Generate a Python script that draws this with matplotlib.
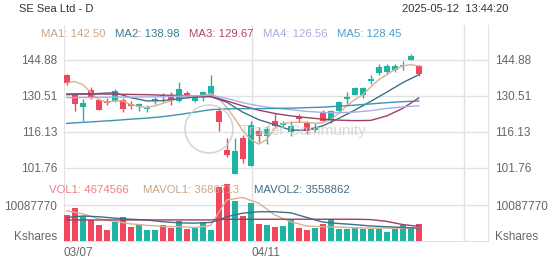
import matplotlib
matplotlib.use("Agg")
import matplotlib.pyplot as plt
from matplotlib.patches import Ellipse
import numpy as np

plt.rcParams['font.family'] = ['Liberation Sans', 'DejaVu Sans']

# ---- data (45 daily candles, last = 2025-05-12) ----
opens = [138.7, 130.9, 125.9, 132.9, 129.0, 128.3, 128.3, 128.9, 127.3, 125.9,
         125.3, 128.3, 130.7, 130.9, 128.3, 131.7, 128.6, 130.3, 130.6, 124.3,
         108.8, 99.4, 113.6, 102.5, 116.3, 114.6, 120.3, 119.0, 116.1, 121.9,
         119.7, 116.9, 123.5, 120.9, 124.6, 129.1, 131.0, 131.0, 136.4, 139.6,
         140.1, 141.0, 142.3, 144.9, 142.3]
closes = [135.6, 127.3, 127.5, 129.7, 124.9, 127.5, 132.4, 125.3, 126.6, 127.1,
          125.9, 129.3, 129.9, 129.0, 133.3, 130.5, 129.9, 131.9, 134.6, 119.9,
          106.9, 108.5, 105.2, 119.0, 114.6, 117.2, 118.5, 119.8, 118.4, 121.2,
          116.5, 118.2, 120.6, 124.3, 127.9, 130.2, 133.7, 133.7, 137.2, 142.0,
          142.3, 142.3, 142.8, 146.4, 139.3]
highs = [139.2, 131.5, 129.4, 134.0, 129.4, 129.5, 133.3, 129.5, 128.6, 127.7,
         126.9, 130.2, 131.7, 132.0, 136.0, 132.4, 131.0, 132.6, 138.7, 125.5,
         113.6, 113.6, 115.0, 120.6, 117.9, 118.5, 123.5, 120.6, 120.6, 123.2,
         120.5, 119.5, 124.9, 124.9, 128.6, 131.9, 134.2, 134.2, 139.0, 143.4,
         143.4, 143.4, 144.4, 147.4, 143.0]
lows = [135.0, 124.6, 120.6, 129.3, 124.7, 126.8, 127.9, 123.9, 125.2, 124.6,
        124.0, 127.3, 128.0, 127.0, 128.0, 129.6, 127.9, 128.3, 130.2, 116.6,
        106.0, 99.2, 103.5, 102.3, 111.9, 111.3, 118.0, 118.2, 114.4, 120.0,
        115.4, 115.9, 120.6, 119.8, 123.9, 127.3, 130.9, 129.6, 135.4, 138.9,
        139.4, 140.0, 140.8, 144.7, 138.5]
volumes = [7300000, 9200000, 7000000, 5900000, 4500000, 3100000, 5300000, 6800000,
           3900000, 4500000, 3100000, 3100000, 4500000, 3600000, 5700000, 3300000,
           3600000, 5200000, 3100000, 15200000, 15900000, 11300000, 7000000,
           10700000, 4900000, 4500000, 4000000, 4200000, 6100000, 3700000, 3000000,
           3600000, 4700000, 6100000, 3400000, 3300000, 3700000, 3300000, 3400000,
           3400000, 2600000, 3300000, 4500000, 3900000, 4674566]

ma1 = [135.6, 136.3, 135.0, 132.0, 129.0, 128.0, 128.5, 128.5, 127.0, 126.3,
       125.8, 126.5, 127.5, 128.5, 129.5, 130.0, 130.3, 130.5, 131.5, 129.5,
       125.9, 121.5, 116.6, 113.0, 111.2, 113.0, 117.5, 119.5, 119.8, 120.0,
       119.9, 119.6, 119.8, 121.0, 123.5, 126.5, 129.0, 131.0, 134.0, 137.0,
       139.0, 141.0, 142.5, 143.0, 142.5]
ma_idx = [0, 3, 6, 8, 10, 12, 14, 16, 18, 20, 22, 24, 26, 28, 30, 32, 34, 36, 38, 40, 42, 44]
ma2 = [131.0, 131.3, 131.8, 129.8, 128.5, 128.6, 129.4, 130.0, 130.2, 128.0, 124.0,
       121.0, 119.0, 116.8, 116.8, 118.5, 121.5, 124.8, 128.3, 132.0, 135.8, 138.98]
ma3 = [131.3, 131.3, 131.2, 131.1, 131.0, 130.8, 130.7, 130.6, 130.3, 128.5, 126.5,
       124.8, 123.5, 122.5, 121.8, 121.2, 120.8, 120.6, 120.7, 122.5, 125.5, 129.67]
ma4 = [129.8, 129.9, 130.0, 130.0, 130.1, 130.2, 130.4, 130.6, 130.8, 129.5, 127.8,
       126.5, 125.6, 125.0, 124.3, 123.9, 123.8, 124.0, 124.6, 125.5, 126.1, 126.56]
ma5 = [119.5, 120.1, 120.7, 121.2, 121.6, 122.2, 123.0, 124.0, 125.0, 125.3, 125.4,
       125.4, 125.5, 125.6, 125.8, 126.0, 126.4, 126.8, 127.3, 127.8, 128.2, 128.45]

mavol_idx = [0, 2, 4, 6, 8, 10, 12, 14, 16, 18, 19, 20, 22, 24, 26, 28, 30, 32, 34, 36, 38, 40, 42, 44]
mavol1 = [8.5, 7.6, 6.2, 5.5, 4.8, 4.4, 4.1, 4.0, 3.8, 4.3, 8.0, 11.5, 12.2, 10.6,
          7.3, 5.4, 4.2, 4.0, 3.9, 3.7, 3.6, 3.6, 3.6, 3.686713]
mavol2 = [6.6, 7.0, 6.8, 6.4, 6.1, 5.9, 5.4, 5.1, 5.0, 5.2, 5.9, 6.8, 7.8, 8.2,
          8.2, 7.9, 6.6, 5.3, 4.9, 4.6, 4.2, 4.0, 3.8, 3.558862]
mavol3 = [5.9, 5.9, 5.9, 5.9, 5.9, 5.9, 5.9, 5.9, 5.9, 5.9, 6.0, 6.1, 6.1, 6.1,
          6.1, 6.1, 6.1, 6.1, 6.1, 6.1, 6.0, 5.5, 4.6, 4.1]

price_levels = [144.88, 130.51, 116.13, 101.76]
vol_level = 10087770
date_labels = ["03/07", "04/11"]

UP = "#1fb4a2"
DOWN = "#f2465e"
GRID = "#e2e2e2"
LABEL = "#666666"

W, H = 552, 265


def rect(x0, y0, x1, y1):
    return [x0 / W, 1 - y1 / H, (x1 - x0) / W, (y1 - y0) / H]


fig = plt.figure(figsize=(W / 100, H / 100), dpi=100)
ax = fig.add_axes(rect(64, 25, 488, 180))
axv = fig.add_axes(rect(64, 180, 488, 241))

x = np.arange(len(opens))
o = np.array(opens); c = np.array(closes)
colors = [UP if cc >= oo else DOWN for oo, cc in zip(o, c)]
xlim = (-0.34, 52.66)
date_pos = [-0.34, 23.16]

# candles
ax.vlines(x, lows, highs, colors=colors, lw=1, zorder=3)
body = np.where(np.abs(c - o) < 0.5, 0.5, np.abs(c - o))
ax.bar(x, body, bottom=np.minimum(o, c), width=0.75, color=colors, zorder=4)

# moving averages
ax.plot(x, ma1, color="#d5b394", lw=1, zorder=5)
ax.plot(ma_idx, ma2, color="#3e6f8c", lw=1, zorder=5)
ax.plot(ma_idx, ma3, color="#9c3e66", lw=1, zorder=5)
ax.plot(ma_idx, ma4, color="#a9afe6", lw=1, zorder=5)
ax.plot(ma_idx, ma5, color="#3d93b3", lw=1, zorder=5)

ax.set_xlim(*xlim)
ax.set_ylim(96.84, 158.89)
for lv in price_levels:
    ax.axhline(lv, color=GRID, lw=1, zorder=0)
ax.set_yticks(price_levels)
ax.set_yticklabels([f"{v:.2f}" for v in price_levels])
ax.tick_params(axis='y', length=0, labelleft=True, labelright=True, pad=5,
               labelsize=8.5, labelcolor=LABEL)
ax.set_xticks([])

# volume
axv.bar(x, volumes, width=0.72, color=colors, zorder=3)
axv.plot(mavol_idx, np.array(mavol1) * 1e6, color="#d5b394", lw=1, zorder=4)
axv.plot(mavol_idx, np.array(mavol2) * 1e6, color="#3e6f8c", lw=1, zorder=4)
axv.plot(mavol_idx, np.array(mavol3) * 1e6, color="#9c3e66", lw=1, zorder=4)
vmax = vol_level * 61 / 36
axv.set_xlim(*xlim)
axv.set_ylim(0, vmax)
axv.axhline(vol_level, color=GRID, lw=1, zorder=0)
axv.set_yticks([vol_level, vmax * 6 / 61])
axv.set_yticklabels([str(vol_level), "Kshares"])
axv.tick_params(axis='y', length=0, labelleft=True, labelright=True, pad=5,
                labelsize=8.5, labelcolor=LABEL)
axv.set_xticks(date_pos)
axv.set_xticklabels(date_labels)
for lbl in axv.get_xticklabels():
    lbl.set_ha('left')
axv.tick_params(axis='x', length=0, pad=4, labelsize=8.5, labelcolor=LABEL)

for a in (ax, axv):
    for s in ("top", "bottom"):
        a.spines[s].set_visible(False)
    for s in ("left", "right"):
        a.spines[s].set_color(GRID)
    for p in date_pos[1:] + [49.66]:
        a.axvline(p, color=GRID, lw=1, zorder=0)
axv.spines["bottom"].set_visible(True)
axv.spines["bottom"].set_color(GRID)

# header texts
fig.text(19 / W, 1 - 9 / H, "SE Sea Ltd - D", fontsize=8, color="#333333", va="center")
fig.text(508 / W, 1 - 9 / H, "2025-05-12  13:44:20", fontsize=8, color="#333333",
         va="center", ha="right")
ma_legend = [("MA1: 142.50", "#c9a588", 41), ("MA2: 138.98", "#3d7898", 115),
             ("MA3: 129.67", "#b0446e", 189), ("MA4: 126.56", "#a6ace6", 263),
             ("MA5: 128.45", "#4a9ed0", 337)]
for txt, col, px in ma_legend:
    fig.text(px / W, 1 - 34 / H, txt, fontsize=8.2, color=col, va="center")
vol_legend = [("VOL1: 4674566", "#f07c88", 49), ("MAVOL1: 3686713", "#c9a588", 143),
              ("MAVOL2: 3558862", "#3e6f8c", 254)]
for txt, col, px in vol_legend:
    fig.text(px / W, 1 - 190 / H, txt, fontsize=8.2, color=col, va="center")

# watermark
fig.add_artist(Ellipse((209 / W, 1 - 129 / H), 48 / W, 48 / H, fill=False,
                       ec="#cccccc", lw=1.2, alpha=0.8))
fig.text(240 / W, 1 - 131 / H, "Trader Community", fontsize=11, color="#cfcfcf",
         va="center", alpha=0.8)

fig.savefig("out.png", dpi=100)
